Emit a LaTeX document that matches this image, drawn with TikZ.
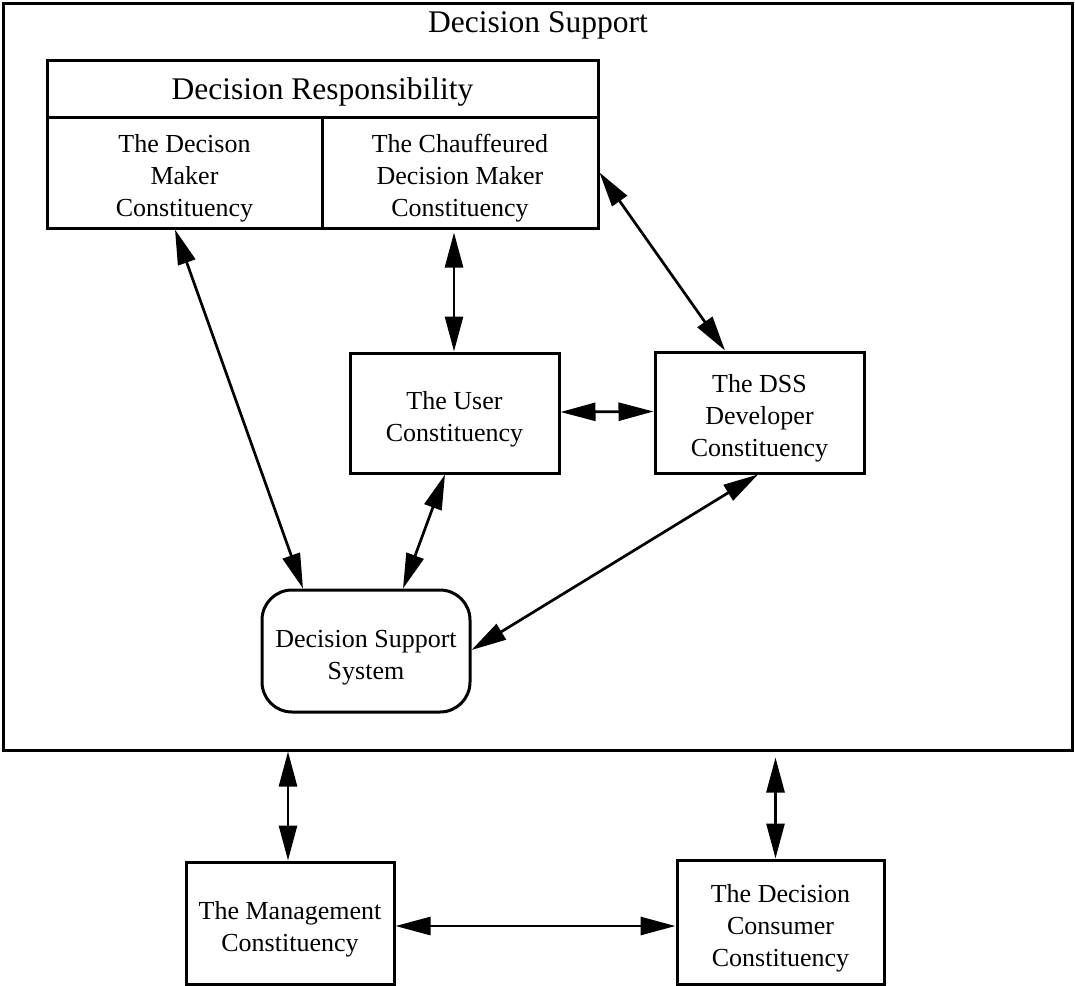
\documentclass[tikz,border=0pt]{standalone}
\usepackage{fontspec}
\setmainfont{Liberation Serif}
\usetikzlibrary{arrows.meta}
\begin{document}
\begin{tikzpicture}[x=1pt,y=-1pt,
  box/.style={draw,line width=3pt,inner sep=0pt},
  txt/.style={align=center,inner sep=0pt,font=\fontsize{26}{32}\selectfont,yshift=-6pt},
  conn/.style={line width=2.7pt,{Triangle[length=35pt,width=18pt]}-{Triangle[length=35pt,width=18pt]}}]
\useasboundingbox (0,0) rectangle (1075,985);
% outer frame
\node[draw,line width=3pt,minimum width=1069pt,minimum height=747pt,inner sep=0pt] (ds) at (537.5,376.5) {};
\node[font=\fontsize{31.5}{36}\selectfont,anchor=base] (dstitle) at (538,32) {Decision Support};
% decision responsibility
\node[box,minimum width=551pt,minimum height=57pt,label={[txt,font=\fontsize{31.5}{36}\selectfont,yshift=3pt]center:Decision Responsibility}] (drh) at (322.5,88.5) {};
\node[box,minimum width=275pt,minimum height=111pt,label={[txt]center:The Decison\\Maker\\Constituency}] (dm) at (184.5,172.5) {};
\node[box,minimum width=276pt,minimum height=111pt,label={[txt]center:The Chauffeured\\Decision Maker\\Constituency}] (cdm) at (460,172.5) {};
% middle
\node[box,minimum width=209pt,minimum height=120pt,label={[txt]center:The User\\Constituency}] (user) at (454.5,413) {};
\node[box,minimum width=209pt,minimum height=121pt,label={[txt]center:The DSS\\Developer\\Constituency}] (dev) at (759.5,412.5) {};
\node[box,rounded corners=30pt,minimum width=208pt,minimum height=122pt,label={[txt,yshift=-1pt]center:Decision Support\\System}] (dss) at (366,651) {};
% bottom
\node[box,minimum width=208pt,minimum height=122pt,label={[txt]center:The Management\\Constituency}] (mgmt) at (290,923) {};
\node[box,minimum width=207pt,minimum height=124pt,label={[txt]center:The Decision\\Consumer\\Constituency}] (cons) at (780.5,922) {};
% connectors
\draw[conn] ([xshift=-9.5pt]dm.south) -- ([xshift=-63pt]dss.north);
\draw[conn,shorten <=3pt] ([xshift=-6pt]cdm.south) -- ([xshift=-0.5pt]user.north);
\draw[conn] ([xshift=-9.5pt]user.south) -- ([xshift=37pt]dss.north);
\draw[conn] ([yshift=1pt]user.east) -- ([yshift=1pt]dev.west);
\draw[conn] (cdm.east) -- ([xshift=-34.5pt]dev.north);
\draw[conn] ([xshift=-1.5pt]dev.south) -- ([yshift=1pt]dss.east);
\draw[conn] ([xshift=-249.5pt]ds.south) -- ([xshift=-2pt]mgmt.north);
\draw[conn,shorten <=6pt] ([xshift=238pt]ds.south) -- ([xshift=-5pt]cons.north);
\draw[conn] ([yshift=-3pt]mgmt.east) -- ([yshift=-4pt]cons.west);
\end{tikzpicture}
\end{document}
